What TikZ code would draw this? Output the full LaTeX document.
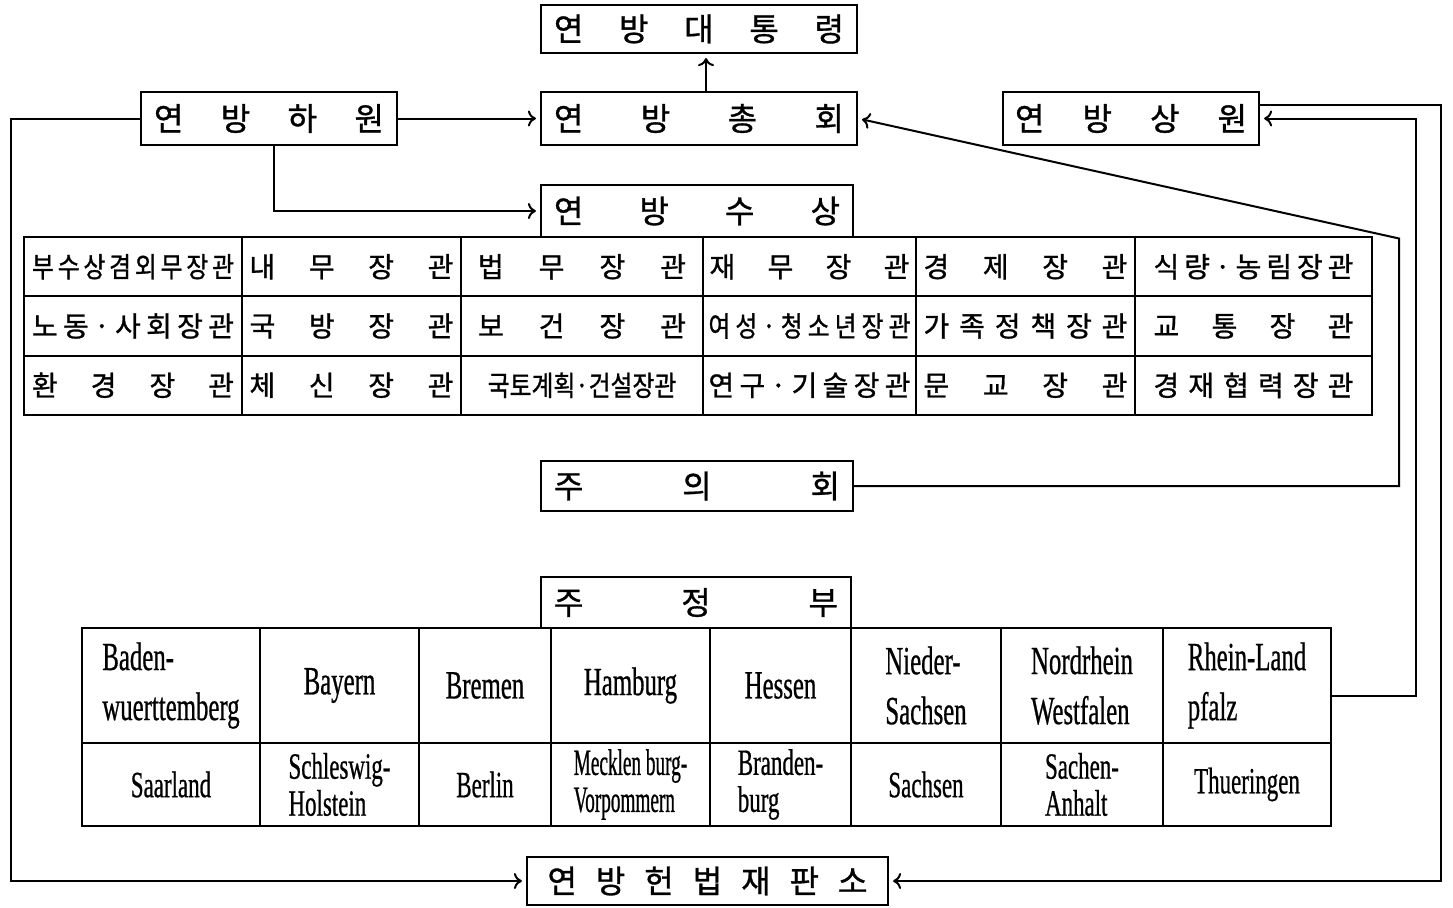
\documentclass[tikz,border=0pt]{standalone}
\usepackage{fontspec}
\setmainfont{Liberation Serif}
\newfontfamily\kr[FakeBold=1]{Noto Sans CJK KR}
\newfontfamily\krc[FakeStretch=0.85,FakeBold=1]{Noto Sans CJK KR}
\newfontfamily\de[FakeStretch=0.62,FakeBold=0.6]{Liberation Serif}
\newfontfamily\dec[FakeStretch=0.52,FakeBold=0.6]{Liberation Serif}
\usetikzlibrary{arrows.meta,calc}
\newcommand\sprd[2]{\makebox[#1][s]{#2}}
\newcommand\tightls{\lineskiplimit=-50pt\relax}
\begin{document}
\begin{tikzpicture}[x=0.5pt,y=-0.5pt,
 box/.style={draw,line width=1.1pt,inner sep=0pt,font=\kr\fontsize{16}{18}\selectfont},
 mcell/.style={draw,line width=1.1pt,inner sep=0pt,minimum height=29.67pt,font=\kr\fontsize{14}{16}\selectfont},
 scella/.style={draw,line width=1.1pt,inner sep=0pt,align=left,minimum height=57.5pt,font=\de\fontsize{20}{25}\selectfont},
 scellb/.style={draw,line width=1.1pt,inner sep=0pt,align=left,minimum height=41.5pt,font=\de\fontsize{18.5}{18.5}\selectfont\tightls},
 arr/.style={line width=1pt,-{To[length=4pt,width=8pt]},shorten >=2pt}]
\useasboundingbox (0,0) rectangle (1453,907);

% top boxes
\node[box,minimum width=158pt,minimum height=24pt] (pres) at (699,29) {\sprd{145pt}{연\hfill 방\hfill 대\hfill 통\hfill 령}};
\node[box,minimum width=158pt,minimum height=26.5pt] (asm) at (699,118.5) {\sprd{145pt}{연\hfill 방\hfill 총\hfill 회}};
\node[box,minimum width=128pt,minimum height=26.5pt] (lower) at (269,118.5) {\sprd{115pt}{연\hfill 방\hfill 하\hfill 원}};
\node[box,minimum width=128pt,minimum height=26.5pt] (upper) at (1131,118.5) {\sprd{116pt}{연\hfill 방\hfill 상\hfill 원}};
\node[box,minimum width=156pt,minimum height=26pt] (chan) at (697,211) {\sprd{143pt}{연\hfill 방\hfill 수\hfill 상}};
\node[box,minimum width=156pt,minimum height=25pt] (spar) at (697,486) {\sprd{143pt}{주\hfill 의\hfill 회}};
\node[box,minimum width=155pt,minimum height=25.5pt] (sgov) at (696,602.5) {\sprd{142pt}{주\hfill 정\hfill 부}};
\node[box,minimum width=180.5pt,minimum height=24pt] (court) at (707.5,881) {\sprd{160pt}{연\hfill 방\hfill 헌\hfill 법\hfill 재\hfill 판\hfill 소}};

% ministers table
\node[mcell,minimum width=109pt] (m11) at (133,266.7) {\krc\sprd{101pt}{부\hfill 수\hfill 상\hfill 겸\hfill 외\hfill 무\hfill 장\hfill 관}};
\node[mcell,minimum width=109.5pt] (m12) at (351.5,266.7) {\sprd{102pt}{내\hfill 무\hfill 장\hfill 관}};
\node[mcell,minimum width=121pt] (m13) at (582,266.7) {\sprd{104pt}{법\hfill 무\hfill 장\hfill 관}};
\node[mcell,minimum width=106.5pt] (m14) at (809.5,266.7) {\sprd{100pt}{재\hfill 무\hfill 장\hfill 관}};
\node[mcell,minimum width=109.5pt] (m15) at (1025.5,266.7) {\sprd{102pt}{경\hfill 제\hfill 장\hfill 관}};
\node[mcell,minimum width=118.5pt] (m16) at (1253.5,266.7) {\sprd{100pt}{식\hfill 량\hfill ·\hfill 농\hfill 림\hfill 장\hfill 관}};

\node[mcell,minimum width=109pt] (m21) at (133,326) {\sprd{101pt}{노\hfill 동\hfill ·\hfill 사\hfill 회\hfill 장\hfill 관}};
\node[mcell,minimum width=109.5pt] (m22) at (351.5,326) {\sprd{102pt}{국\hfill 방\hfill 장\hfill 관}};
\node[mcell,minimum width=121pt] (m23) at (582,326) {\sprd{104pt}{보\hfill 건\hfill 장\hfill 관}};
\node[mcell,minimum width=106.5pt] (m24) at (809.5,326) {\krc\sprd{101pt}{여\hfill 성\hfill ·\hfill 청\hfill 소\hfill 년\hfill 장\hfill 관}};
\node[mcell,minimum width=109.5pt] (m25) at (1025.5,326) {\sprd{102pt}{가\hfill 족\hfill 정\hfill 책\hfill 장\hfill 관}};
\node[mcell,minimum width=118.5pt] (m26) at (1253.5,326) {\sprd{100pt}{교\hfill 통\hfill 장\hfill 관}};

\node[mcell,minimum width=109pt] (m31) at (133,385.3) {\sprd{101pt}{환\hfill 경\hfill 장\hfill 관}};
\node[mcell,minimum width=109.5pt] (m32) at (351.5,385.3) {\sprd{102pt}{체\hfill 신\hfill 장\hfill 관}};
\node[mcell,minimum width=121pt] (m33) at (582,385.3) {\krc 국토계획·건설장관};
\node[mcell,minimum width=106.5pt] (m34) at (809.5,385.3) {\sprd{101pt}{연\hfill 구\hfill ·\hfill 기\hfill 술\hfill 장\hfill 관}};
\node[mcell,minimum width=109.5pt] (m35) at (1025.5,385.3) {\sprd{102pt}{문\hfill 교\hfill 장\hfill 관}};
\node[mcell,minimum width=118.5pt] (m36) at (1253.5,385.3) {\sprd{100pt}{경\hfill 재\hfill 협\hfill 력\hfill 장\hfill 관}};

% states table
\node[scella,minimum width=89pt] (s11) at (171,685.5) {Baden-\\wuerttemberg};
\node[scella,minimum width=79.5pt] (s12) at (339.5,685.5) {Bayern};
\node[scella,minimum width=66pt] (s13) at (485,685.5) {Bremen};
\node[scella,minimum width=79.5pt] (s14) at (630.5,685.5) {Hamburg};
\node[scella,minimum width=70.5pt] (s15) at (780.5,685.5) {Hessen};
\node[scella,minimum width=75pt] (s16) at (926,685.5) {Nieder-\\Sachsen};
\node[scella,minimum width=81pt] (s17) at (1082,685.5) {Nordrhein\\Westfalen};
\node[scella,minimum width=84pt] (s18) at (1247,685.5) {Rhein-Land\\pfalz};

\node[scellb,minimum width=89pt] (s21) at (171,784.5) {Saarland};
\node[scellb,minimum width=79.5pt] (s22) at (339.5,784.5) {Schleswig-\\Holstein};
\node[scellb,minimum width=66pt] (s23) at (485,784.5) {Berlin};
\node[scellb,minimum width=79.5pt,font=\dec\fontsize{18.5}{18.5}\selectfont\tightls] (s24) at (630.5,784.5) {Mecklen burg-\\Vorpommern};
\node[scellb,minimum width=70.5pt] (s25) at (780.5,784.5) {Branden-\\burg};
\node[scellb,minimum width=75pt] (s26) at (926,784.5) {Sachsen};
\node[scellb,minimum width=81pt] (s27) at (1082,784.5) {Sachen-\\Anhalt};
\node[scellb,minimum width=84pt] (s28) at (1247,784.5) {Thueringen};

% connectors
\draw[arr] ([xshift=3.5pt]asm.north) -- ([xshift=3.5pt]pres.south);
\draw[arr] (lower.east) -- (asm.west);
\draw[arr] ([xshift=2.5pt]lower.south) |- (chan.west);
\draw[arr] (lower.west) -- ++(-129,0) |- (court.west);
\draw[arr] (spar.east) -| ($(asm.east)+(541,120)$) -- (asm.east);
\draw[arr] ([yshift=-5pt]s18.east) -| ($(upper.east)+(156,0)$) -- (upper.east);
\draw[arr] ([yshift=7pt]upper.east) -- ++(181,0) |- (court.east);
\end{tikzpicture}
\end{document}
